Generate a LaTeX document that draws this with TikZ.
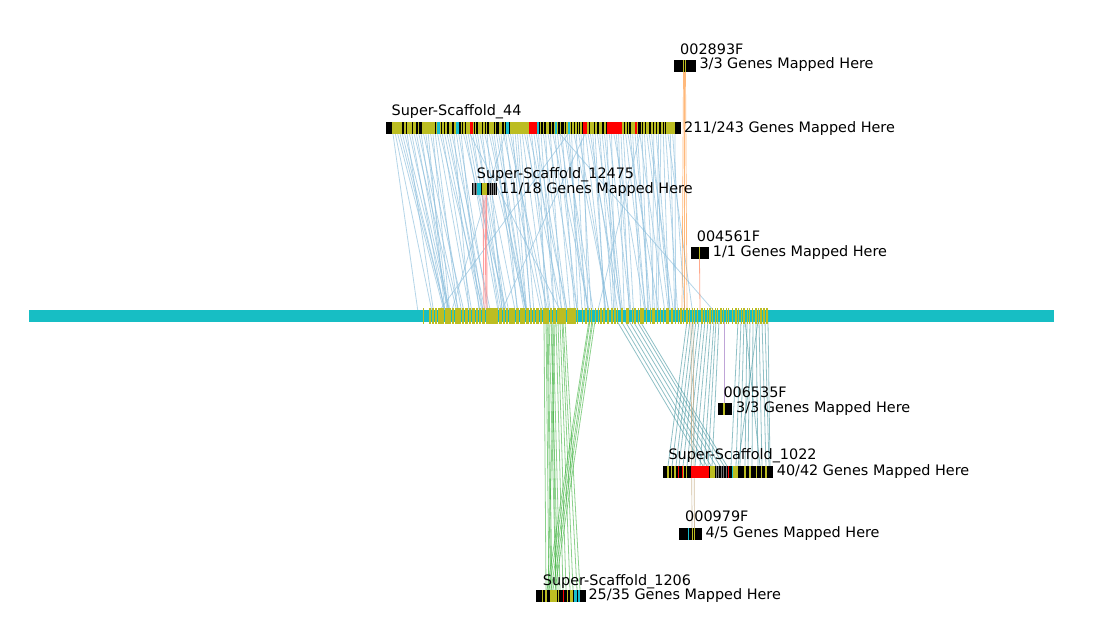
\documentclass[tikz,border=0pt]{standalone}
\usepackage{fontspec}
\setmainfont{DejaVu Sans}
\usetikzlibrary{positioning}

\definecolor{chromcyan}{RGB}{23,190,196}
\definecolor{geneolive}{RGB}{188,189,34}
\definecolor{genecyan}{RGB}{23,190,207}
\definecolor{linkblue}{RGB}{140,190,220}
\definecolor{linkteal}{RGB}{70,150,160}
\definecolor{linkgreen}{RGB}{44,170,44}
\definecolor{linkorange}{RGB}{255,127,14}
\definecolor{linkpurple}{RGB}{148,103,189}
\definecolor{linktan}{RGB}{196,170,130}

\begin{document}
\begin{tikzpicture}[x=1pt, y=-1pt,
		lbl/.style={anchor=base west, inner sep=0pt, font=\fontsize{14.4}{17}\selectfont},
		chrom/.style={fill=chromcyan},
		scaf/.style={fill=black},
		gene/.style={fill=geneolive},
		genec/.style={fill=genecyan},
		gener/.style={fill=red},
		link44/.style={draw=linkblue, line width=0.8pt, opacity=0.65},
		link12475/.style={draw=red!45, line width=0.9pt, opacity=0.85},
		link1022/.style={draw=linkteal, line width=0.8pt, opacity=0.6},
		link1206/.style={draw=linkgreen, line width=0.8pt, opacity=0.55},
		linkorange/.style={draw=linkorange, line width=0.7pt, opacity=0.55},
		linksalmon/.style={draw=red!50!orange!60, line width=0.8pt, opacity=0.75},
		linkpurple/.style={draw=linkpurple, line width=0.8pt, opacity=0.6},
		linktan/.style={draw=linktan, line width=0.7pt, opacity=0.75}]
	\useasboundingbox (0,0) rectangle (1103,643);
	\pgfmathsetseed{41}

	% links of Super-Scaffold_44
	\foreach \i in {0,...,120} {
		\pgfmathsetmacro\sx{393+\i*2.35}
		\pgfmathsetmacro\mx{min(714,\sx+32-\i*0.17+rand*16)}
		\draw[link44] (\sx,134) -- (\mx,310);
	}
	\foreach \a/\b in {568/440, 560/713, 585/502, 470/560, 505/452, 640/598}
		\draw[link44] (\a,134) -- (\b,310);

	% small scaffolds above
	\foreach \a/\b in {483/484, 485/486, 486.5/487}
		\draw[link12475] (\a,195) -- (\b,310);
	\foreach \a/\b in {683.5/682, 684.5/684.5, 685.5/687}
		\draw[linkorange] (\a,72) -- (\b,310);
	\draw[linksalmon] (699.5,259) -- (700,310);

	% links below the chromosome
	\foreach \a/\b in {617/703, 621/707, 625/711, 629/716, 633/720, 637/724, 640/727,
			687/668, 690/672, 693/676, 696/679, 699/683, 702/687, 705/691, 708/695,
			711/700, 714/704, 716/708, 719/712, 738/731, 741/736, 744/740, 747/745,
			750/748, 753/752, 756/758, 759/762, 762/766, 765/769, 768/770, 745/760, 758/738}
		\draw[link1022] (\a,321) -- (\b,466);
	\draw[linkpurple] (724,321) -- (724,403);
	\foreach \a/\b in {691/692, 693/694.5}
		\draw[linktan] (\a,321) -- (\b,528);
	\foreach \a/\b in {544/546, 546/549, 548/552, 549/556, 551/558, 553/560, 555/548,
			556/563, 558/566, 560/570, 562/573, 563/577, 565/580, 547/551, 552/556,
			589/547, 590/549, 592/551, 593/553, 595/555}
		\draw[link1206] (\a,321) -- (\b,590);

	% chromosome
	\fill[chrom] (28.5,310) rectangle (1054,321.5);
	\fill[gene] (423,307.5) rectangle ++(1,16);
	\foreach \i in {0,...,104} {
		\pgfmathsetmacro\tx{429+\i*1.42}
		\pgfmathsetmacro\tw{0.5+1.1*rnd}
		\fill[gene] (\tx,307.5) rectangle ++(\tw,16);
	}
	\foreach \i in {0,...,64} {
		\pgfmathsetmacro\tx{583+\i*2.86+rand*0.8}
		\pgfmathsetmacro\tw{0.6+1.4*rnd}
		\fill[gene] (\tx,307.5) rectangle ++(\tw,16);
	}

	% Super-Scaffold_44
	\fill[scaf] (386,122) rectangle (681,134);
	\foreach \i in {0,...,95} {
		\pgfmathsetmacro\tx{392+\i*2.95+rand*0.8}
		\pgfmathsetmacro\tw{0.8+1.8*rnd}
		\fill[gene] (\tx,122) rectangle ++(\tw,12);
	}
	\foreach \a/\b in {392/400, 422/435, 512/527, 667/675}
		\fill[gene] (\a,122) rectangle (\b,134);
	\foreach \a/\b in {437/439.5, 456/459, 506/509, 537/539, 555/557, 568/569.5}
		\fill[genec] (\a,122) rectangle (\b,134);
	\foreach \a/\b in {470/473, 529/537, 583/587, 607/622, 635/637}
		\fill[gener] (\a,122) rectangle (\b,134);
	\node[lbl] (n44) at (391.5,115.7) {Super-Scaffold\_44};
	\node[lbl] (c44) at (684,132.3) {211/243 Genes Mapped Here};

	% Super-Scaffold_12475
	\fill[scaf] (471.7,183) rectangle (496.7,195);
	\foreach \x in {473, 474.5, 476, 489, 491, 493, 495}
		\draw[white, opacity=0.5, line width=0.4pt] (\x,183) -- (\x,195);
	\fill[genec] (477,183) rectangle (480.7,195);
	\fill[gene] (481.7,183) rectangle (487.3,195);
	\node[lbl] (n12475) at (476.7,178.3) {Super-Scaffold\_12475};
	\node[lbl] (c12475) at (500,193.3) {11/18 Genes Mapped Here};

	% 002893F
	\fill[scaf] (674,60) rectangle (695.7,72);
	\foreach \x in {683.5, 685.5}
		\fill[gene] (\x-0.4,60) rectangle (\x+0.4,72);
	\node[lbl] (n2893) at (680,54) {002893F};
	\node[lbl] (c2893) at (699.3,68.3) {3/3 Genes Mapped Here};

	% 004561F
	\fill[scaf] (690.7,247.3) rectangle (709,259);
	\fill[gene] (699.1,247.3) rectangle (699.9,259);
	\node[lbl] (n4561) at (696.7,241) {004561F};
	\node[lbl] (c4561) at (712.7,256) {1/1 Genes Mapped Here};

	% 006535F
	\fill[scaf] (717.7,403.3) rectangle (732.3,415.3);
	\fill[gene] (723.3,403.3) rectangle (724.8,415.3);
	\node[lbl] (n6535) at (723.3,397.3) {006535F};
	\node[lbl] (c6535) at (736,412.3) {3/3 Genes Mapped Here};

	% Super-Scaffold_1022
	\fill[scaf] (662.7,466) rectangle (773.3,478);
	\foreach \x in {668, 671.7, 675, 683.3, 686.7, 745, 750, 756.7, 761.7, 766}
		\fill[gene] (\x-0.6,466) rectangle (\x+0.6,478);
	\foreach \a/\b in {710/715, 731.7/738.3}
		\fill[gene] (\a,466) rectangle (\b,478);
	\foreach \x in {716, 718.5, 721, 723.5, 726}
		\draw[white, opacity=0.45, line width=0.4pt] (\x,466) -- (\x,478);
	\fill[genec] (731.8,466) rectangle (733,478);
	\foreach \a/\b in {677.8/678.8, 682.2/683.2, 690.7/709.3, 727.8/728.8}
		\fill[gener] (\a,466) rectangle (\b,478);
	\node[lbl] (n1022) at (668.3,459.3) {Super-Scaffold\_1022};
	\node[lbl] (c1022) at (776.7,475) {40/42 Genes Mapped Here};

	% 000979F
	\fill[scaf] (679.3,528.3) rectangle (702.3,540.3);
	\fill[genec] (687.6,528.3) rectangle (688.5,540.3);
	\foreach \x in {692, 694}
		\fill[gene] (\x-0.5,528.3) rectangle (\x+0.5,540.3);
	\node[lbl] (n979) at (685,521.7) {000979F};
	\node[lbl] (c979) at (705.3,537.3) {4/5 Genes Mapped Here};

	% Super-Scaffold_1206
	\fill[scaf] (536,590) rectangle (585.7,602.3);
	\foreach \a/\b in {541.5/543, 545/546.5, 550/556.5, 558/559, 566.5/568, 570/572.5}
		\fill[gene] (\a,590) rectangle (\b,602.3);
	\fill[gener] (562.5,590) rectangle (563.8,602.3);
	\foreach \a/\b in {574/576.5, 578/580}
		\fill[genec] (\a,590) rectangle (\b,602.3);
	\node[lbl] (n1206) at (542.7,585) {Super-Scaffold\_1206};
	\node[lbl] (c1206) at (588.3,599.3) {25/35 Genes Mapped Here};
\end{tikzpicture}
\end{document}
